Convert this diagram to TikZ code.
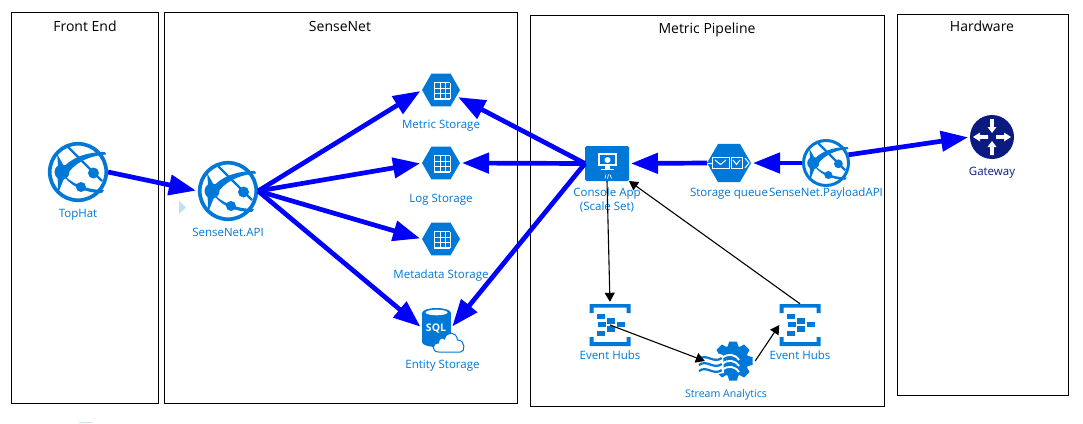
\documentclass[tikz,border=0pt]{standalone}
\usepackage{fontspec}
\setmainfont{Open Sans}
\usetikzlibrary{arrows.meta,shapes.geometric}
\definecolor{azure}{HTML}{0078D7}
\definecolor{navy}{HTML}{0A1A80}
\definecolor{paleblue}{HTML}{BFE1F0}

% Icon interiors, drawn around the centre of their node
\tikzset{
  globe/.pic={
    \fill[azure] (-16,0) circle[radius=7.5];
    \fill[azure] (15.5,1) circle[radius=5.5];
    \fill[azure] (3,15) circle[radius=5];
    \draw[azure,line width=2.4pt] (-10,-25) -- (24,9);
    \fill[azure] (-17,-2) .. controls (-8,-14) and (8,-20) .. (27,-20) -- (28,-17.5) .. controls (10,-16) and (-4,-9) .. (-12,4) -- cycle;
    \fill[azure] (-16,1) .. controls (-8,11) and (8,18) .. (26,18) -- (24,21) .. controls (6,21) and (-10,13) .. (-16,1) -- cycle;
    \fill[azure] (-21,0) .. controls (-20,8) and (-20,14) .. (-20,22) .. controls (-17,14) and (-15,8) .. (-12,3) -- cycle;
    \fill[azure] (-21,-18) .. controls (-20,-10) and (-20,-5) .. (-20,-2) -- (-13,-3) .. controls (-15,-8) and (-18,-13) .. (-21,-18) -- cycle;
  },
  grid/.pic={
    \foreach \gx in {-6.7,-1,4,9} \draw[white,line width=1pt] (\gx,-7.3) -- (\gx,9.3);
    \foreach \gy in {-7.3,-1.5,3.5,8} \draw[white,line width=1pt] (-6.7,\gy) -- (9,\gy);
    \draw[white,line width=1.5pt] (-6.7,9) -- (9,9);
  },
  hubs/.pic={
    \fill[azure] (-20.5,-21) rectangle (20.5,-17.5) (-20.5,-17.5) rectangle (-16.5,-12) (16.5,-17.5) rectangle (20.5,-12);
    \fill[azure] (-20.5,21) rectangle (20.5,17) (-20.5,17) rectangle (-16.5,12) (16.5,17) rectangle (20.5,12);
    \foreach \hx/\hy in {-8.7/-8.7,-8/-0.3,-8.7/8.7,1/-4,1/4,11.3/-0.3}
      \fill[azure] (\hx-4,\hy-2.6) rectangle (\hx+4,\hy+2.6);
  },
  gear/.pic={
    \fill[azure] (0,0) circle[radius=15.5];
    \foreach \ga in {-135,-90,-45,0,45,90,135}
      \fill[azure,rotate=\ga] (14,-5.5) -- (19.5,-3.8) -- (19.5,3.8) -- (14,5.5) -- cycle;
    \fill[white] (-20,-9) -- (-10,-6) -- (-9,12) -- (-20,14) -- cycle;
    \foreach \wy in {-2,4,10} {
      \draw[azure,line width=2.2pt] (-34,\wy) .. controls (-26,\wy-6) and (-20,\wy+5) .. (-11,\wy-1);
      \draw[white,line width=1.9pt] (-11,\wy-1) .. controls (-5,\wy-6) and (2,\wy-5) .. (6,\wy+1);
    }
  },
  dbcloud/.pic={
    \fill[azure] (-14.5,-15) rectangle (14.5,14);
    \fill[azure] (0,-15) ellipse[x radius=14.5,y radius=5];
    \fill[azure] (0,14) ellipse[x radius=14.5,y radius=5];
    \fill[white] (0,-15.5) ellipse[x radius=11,y radius=2.8];
    \fill[white] (2,24) .. controls (-5,24) and (-5,15) .. (2,15) .. controls (2,10) and (6,9) .. (8,11) .. controls (10,3) and (20,3) .. (21,12) .. controls (29,12) and (29,24) .. (24,24) -- cycle;
    \draw[azure,line width=1pt] (2,24) .. controls (-5,24) and (-5,15) .. (2,15) .. controls (2,10) and (6,9) .. (8,11) .. controls (10,3) and (20,3) .. (21,12) .. controls (29,12) and (29,24) .. (24,24) -- cycle;
  },
  monitor/.pic={
    \fill[white] (-9,-10.5) rectangle (10,2.5);
    \fill[azure] (-7,-8.5) rectangle (8,0.5);
    \fill[white] (0.5,-3.5) circle[radius=3];
    \fill[white] (-2,2.5) rectangle (3,5);
    \fill[white] (-6,5) rectangle (7,6);
    \draw[white,line width=.7pt] (-2,15) -- (-1,11) (0.5,15) -- (1.5,11) (3,11) -- (4.5,15);
  },
  envelopes/.pic={
    \draw[white,line width=1pt] (-22,0) -- (-17,0);
    \draw[white,line width=1pt] (-17,-5.5) rectangle (0,5.5) (2,-5.5) rectangle (13,5.5);
    \draw[white,line width=1pt] (-14,-3) -- (-8.5,1.5) -- (-3,-3) (4,-3) -- (7.5,1.5) -- (11,-3);
    \draw[white,line width=1pt] (16,-5) -- (20,0) -- (16,5);
  },
  router/.pic={
    % sideways arrows point out, upright ones point in
    \foreach \ra in {0,180}
      \fill[white,rotate=\ra] (4,-1.8) -- (12,-1.8) -- (12,-4.5) -- (19,0) -- (12,4.5) -- (12,1.8) -- (4,1.8) -- cycle;
    \foreach \ra in {90,270}
      \fill[white,rotate=\ra] (18,-1.8) -- (10,-1.8) -- (10,-4.5) -- (4,0) -- (10,4.5) -- (10,1.8) -- (18,1.8) -- cycle;
  }
}

\begin{document}
\begin{tikzpicture}[x=1pt,y=-1pt,font=\fontsize{11.5}{14}\selectfont]

% Define styles
\tikzstyle{panel} = [rectangle, draw=black, line width=1pt, inner sep=0pt]
\tikzstyle{panelTitle} = [text=black, font=\fontsize{14}{16}\selectfont, inner sep=0pt]
\tikzstyle{caption} = [text=azure, inner sep=0pt, align=center]
\tikzstyle{globeIcon} = [circle, draw=azure, line width=3.7pt, fill=white, inner sep=0pt, minimum size=56.5pt]
\tikzstyle{hexIcon} = [regular polygon, regular polygon sides=6, fill=azure, inner sep=0pt, outer sep=0pt, minimum size=38pt]
\tikzstyle{hubIcon} = [rectangle, inner sep=0pt, minimum width=41pt, minimum height=42pt]
\tikzstyle{flow} = [-{Triangle[length=27pt,width=20pt]}, line width=4.7pt, draw=blue, shorten >=2pt]
\tikzstyle{link} = [-{Triangle[length=9pt,width=10pt]}, line width=1.1pt, draw=black]

\useasboundingbox (0,0) rectangle (1083,423);
\fill[white] (0,0) rectangle (1083,423);

% Define panels
\draw[panel] (11.5,12.5) rectangle (158.5,403.5);
\draw[panel] (164.5,12.5) rectangle (517.5,403.5);
\draw[panel] (530.5,15.5) rectangle (884.5,406.5);
\draw[panel] (897.5,14.5) rectangle (1068.5,395.5);
\node[panelTitle] (frontTitle) at (85,26) {Front End};
\node[panelTitle] (senseTitle) at (340,26) {SenseNet};
\node[panelTitle] (metricTitle) at (707,30) {Metric Pipeline};
\node[panelTitle] (hardwareTitle) at (982,26) {Hardware};

% Define front end and SenseNet nodes
\node[globeIcon] (topHat) at (78,172) {};
\pic at (topHat) {globe};
\node[globeIcon] (senseApi) at (228,191) {};
\pic at (senseApi) {globe};
\node[hexIcon] (metricStorage) at (441,90) {};
\pic at (metricStorage) {grid};
\node[hexIcon] (logStorage) at (441,163) {};
\pic at (logStorage) {grid};
\node[hexIcon] (metadataStorage) at (441,239) {};
\pic at (metadataStorage) {grid};
\node[rectangle, inner sep=0pt, outer sep=0pt, minimum width=29pt, minimum height=39pt] (entityStorage) at (436.5,328) {};
\pic at (entityStorage) {dbcloud};
\node[text=white, inner sep=0pt, font=\fontsize{10.5}{12}\bfseries\selectfont] (sqlText) at (436,329) {SQL};

% Define pipeline nodes
\node[rectangle, rounded corners=1.5pt, fill=azure, inner sep=0pt, outer sep=0pt, minimum width=44pt, minimum height=35pt] (consoleApp) at (607,163.5) {};
\pic at (consoleApp) {monitor};
\node[hexIcon, minimum size=44pt] (storageQueue) at (729,163) {};
\pic at (storageQueue) {envelopes};
\node[globeIcon, line width=3pt, minimum size=45pt] (payloadApi) at (826,163) {};
\pic[scale=.8] at (payloadApi) {globe};
\node[hubIcon] (hubsLeft) at (610,325) {};
\pic at (hubsLeft) {hubs};
\node[hubIcon] (hubsRight) at (800,325) {};
\pic at (hubsRight) {hubs};
\node[circle, inner sep=0pt, minimum size=50pt] (streamAnalytics) at (730,361) {};
\pic at (733,361) {gear};

% Define hardware node
\node[circle, fill=navy, inner sep=0pt, outer sep=0pt, minimum size=44pt] (gateway) at (992,137) {};
\pic at (gateway) {router};

% Captions
\node[caption, below of=topHat, node distance=43pt] (topHatText) {TopHat};
\node[caption, below of=senseApi, node distance=41pt] (senseApiText) {SenseNet.API};
\node[caption, below of=metricStorage, node distance=36pt] (metricText) {Metric Storage};
\node[caption, below of=logStorage, node distance=37pt] (logText) {Log Storage};
\node[caption, below of=metadataStorage, node distance=37pt] (metadataText) {Metadata Storage};
\node[caption, below of=entityStorage, node distance=38pt, xshift=6pt] (entityText) {Entity Storage};
\node[caption, below of=consoleApp, node distance=37pt] (consoleText) {Console App\\(Scale Set)};
\node[caption, below of=storageQueue, node distance=31pt] (queueText) {Storage queue};
\node[caption, below of=payloadApi, node distance=31pt] (payloadText) {SenseNet.PayloadAPI};
\node[caption, below of=hubsLeft, node distance=30pt] (hubsLeftText) {Event Hubs};
\node[caption, below of=hubsRight, node distance=30pt] (hubsRightText) {Event Hubs};
\node[caption, below of=streamAnalytics, node distance=34pt, xshift=-4pt, font=\fontsize{10.6}{14}\selectfont] (streamText) {Stream Analytics};
\node[caption, text=navy, below of=gateway, node distance=36pt] (gatewayText) {Gateway};

% Small marks
\fill[paleblue] (179,201) -- (186,207.5) -- (179,214) -- cycle;
\fill[paleblue] (79,422) rectangle (92,423);

% Relationships (arrows)
\draw[flow] (topHat.east) -- (senseApi.west);
\draw[flow] (senseApi.east) -- (metricStorage.west);
\draw[flow] (senseApi.east) -- (logStorage.west);
\draw[flow] (senseApi.east) -- (metadataStorage.west);
\draw[flow] (senseApi.east) -- (entityStorage.west);
\draw[flow] (consoleApp.west) -- (metricStorage.-22);
\draw[flow] (consoleApp.west) -- (logStorage.east);
\draw[flow] (consoleApp.west) -- (entityStorage.east);
\draw[flow] (storageQueue.west) -- (consoleApp.east);
\draw[flow] (payloadApi.west) -- (storageQueue.east);
\draw[flow] (payloadApi.20) -- (gateway.west);

\draw[link, shorten >=2pt] (consoleApp.south) -- (hubsLeft.north);
\draw[link] (hubsLeft.center) -- (streamAnalytics.west);
\draw[link] (streamAnalytics.east) -- (hubsRight.west);
\draw[link] (hubsRight.north) -- (consoleApp.south east);

\end{tikzpicture}
\end{document}
